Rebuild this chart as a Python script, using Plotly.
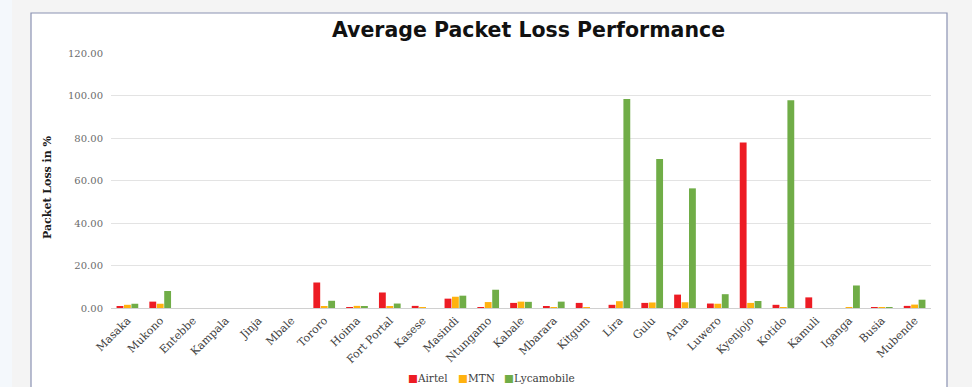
import plotly.graph_objects as go

towns = ["Masaka", "Mukono", "Entebbe", "Kampala", "Jinja", "Mbale", "Tororo", "Hoima",
         "Fort Portal", "Kasese", "Masindi", "Ntungamo", "Kabale", "Mbarara", "Kitgum",
         "Lira", "Gulu", "Arua", "Luwero", "Kyenjojo", "Kotido", "Kamuli", "Iganga",
         "Busia", "Mubende"]
airtel = [0.6, 3.0, 0, 0, 0, 0, 12.0, 0.4, 7.3, 1.0, 4.4, 0.4, 2.4, 0.9, 2.4,
          1.5, 2.4, 6.3, 2.1, 77.9, 1.5, 5.0, 0, 0.4, 1.0]
mtn = [1.5, 2.0, 0, 0, 0, 0, 0.5, 1.0, 0.5, 0.2, 5.3, 2.8, 3.0, 0.2, 0.4,
       3.2, 2.6, 2.7, 2.0, 2.4, 0.4, 0, 0.4, 0.2, 1.6]
lyca = [2.0, 8.0, 0, 0, 0, 0, 3.4, 0.5, 2.1, 0, 5.8, 8.6, 2.9, 3.0, 0,
        98.3, 70.1, 56.3, 6.5, 3.3, 97.8, 0, 10.6, 0.3, 3.9]
y_ticks = [0, 20, 40, 60, 80, 100, 120]
series_names = ["Airtel", "MTN", "Lycamobile"]
series_colors = ["#ED1C24", "#FFB20F", "#70AD47"]

W, H = 980, 387
L, R, T, B = 111, 49, 53, 79
pw = W - L - R
ph = H - T - B

def px_x(p):
    return (p - L) / pw

def px_y(p):
    return (H - B - p) / ph

serif = "DejaVu Serif"

fig = go.Figure()
for name, vals, col in zip(series_names, [airtel, mtn, lyca], series_colors):
    fig.add_trace(go.Bar(x=towns, y=vals, name=name,
                         marker=dict(color=col, line=dict(width=0))))

shapes = [
    dict(type="rect", xref="paper", yref="paper", layer="below",
         x0=px_x(0), x1=px_x(12), y0=px_y(H), y1=px_y(0),
         fillcolor="#F4F8FC", line=dict(width=0)),
    dict(type="rect", xref="paper", yref="paper", layer="below",
         x0=px_x(31), x1=px_x(947), y0=px_y(H + 5), y1=px_y(13),
         fillcolor="white", line=dict(color="#8A92B2", width=1.2)),
    dict(type="rect", xref="paper", yref="paper", layer="below",
         x0=px_x(972), x1=px_x(W + 2), y0=px_y(H), y1=px_y(0),
         fillcolor="white", line=dict(width=0)),
]

annotations = [dict(text="<b>Packet Loss in %</b>", textangle=-90,
                    xref="paper", yref="paper", x=px_x(47), y=px_y(187),
                    xanchor="center", yanchor="middle", showarrow=False,
                    font=dict(family=serif, size=11, color="#1a1a1a"))]
legend_x = [406, 456, 502]
for name, col, lx in zip(series_names, series_colors, legend_x):
    annotations.append(dict(
        text=f"<span style='color:{col}'>■</span>{name}",
        xref="paper", yref="paper", x=px_x(lx), y=px_y(378),
        xanchor="left", yanchor="middle", showarrow=False,
        font=dict(family=serif, size=10.5, color="#404040")))

fig.update_layout(
    width=W, height=H,
    margin=dict(l=L, r=R, t=T, b=B, pad=0),
    paper_bgcolor="#F4F4F4",
    plot_bgcolor="white",
    barmode="group",
    bargap=0.32,
    bargroupgap=0.08,
    shapes=shapes,
    showlegend=False,
    title=dict(text="<b>Average Packet Loss Performance</b>",
               font=dict(family="DejaVu Sans", size=20.5, color="#111111"),
               x=528.5 / W, xanchor="center",
               y=1 - 30 / H, yanchor="middle", yref="container", xref="container"),
    xaxis=dict(tickangle=-45, tickfont=dict(family=serif, size=11, color="#404040"),
               ticklabelstandoff=3,
               showgrid=False, showline=False, ticks="", ticklen=0, automargin=False),
    yaxis=dict(range=[0, 120], tickvals=y_ticks,
               ticktext=[f"{v:.2f}" for v in y_ticks],
               tickfont=dict(family=serif, size=10, color="#6b6b6b"),
               ticklabelstandoff=7,
               showgrid=True, gridcolor="#E3E3E3", gridwidth=1,
               zeroline=True, zerolinecolor="#D0D0D0", zerolinewidth=1.2,
               showline=False, ticks="", automargin=False),
    annotations=annotations,
)

fig.write_html("out.html")
